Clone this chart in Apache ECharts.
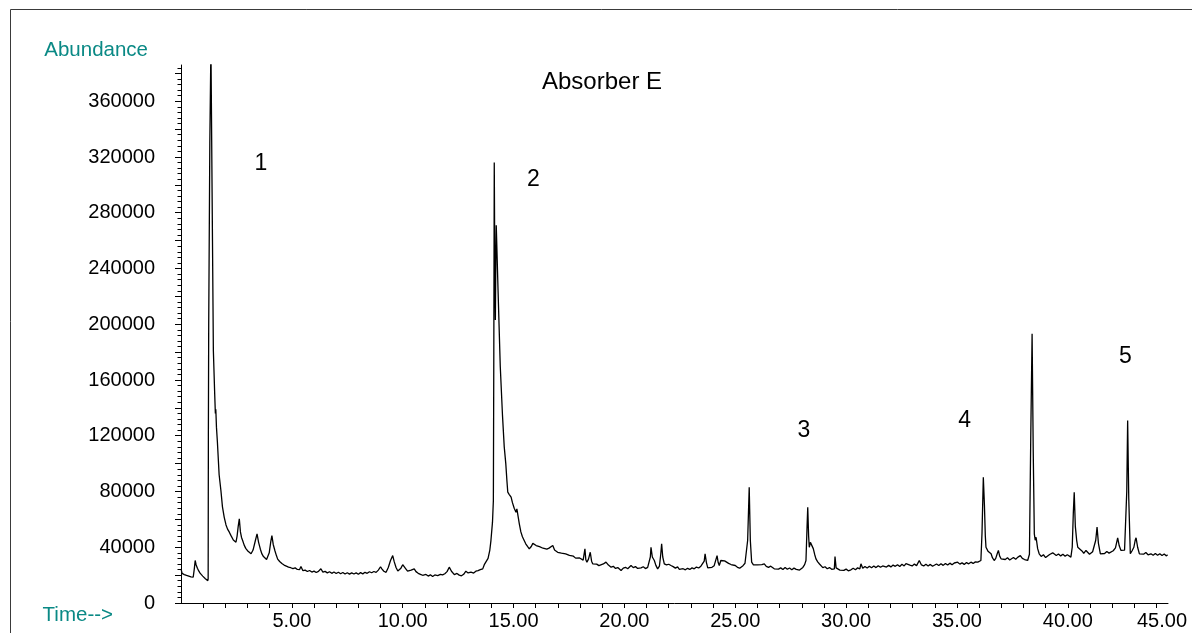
<!DOCTYPE html>
<html>
<head>
<meta charset="utf-8">
<script src="https://cdn.jsdelivr.net/npm/echarts@6/dist/echarts.min.js"></script>
<style>
html,body{margin:0;padding:0;background:#fff;}
#chart{width:1192px;height:633px;}
</style>
</head>
<body>
<div id="chart"></div>
<script>
// ---------- DATA ----------
const chartTitle = 'Absorber E';
const yAxisName = 'Abundance';
const xAxisName = 'Time-->';

const yTickValues = [0,20000,40000,60000,80000,100000,120000,140000,160000,180000,200000,220000,240000,260000,280000,300000,320000,340000,360000,380000];
const yLabelValues = [0,40000,80000,120000,160000,200000,240000,280000,320000,360000];
const xTickValues = [1,2,3,4,5,6,7,8,9,10,11,12,13,14,15,16,17,18,19,20,21,22,23,24,25,26,27,28,29,30,31,32,33,34,35,36,37,38,39,40,41,42,43,44];
const xLabelValues = [5,10,15,20,25,30,35,40,45];

// peak annotations: [time (min), abundance, text]
const peakLabels = [
  [3.6, 315000, '1'],
  [15.9, 303700, '2'],
  [28.1, 123700, '3'],
  [35.35, 130900, '4'],
  [42.6, 176700, '5']
];

// chromatogram trace: [time (min), abundance (thousands)]
const trace = [
[0,24.5],[0.05,21.2],[0.1,22.0],[0.15,20.4],[0.2,21.1],[0.25,19.8],[0.3,20.6],[0.35,19.3],[0.4,20.0],[0.45,18.8],[0.5,19.6],[0.55,18.5],
[0.6,24.5],[0.64,30.5],[0.68,27.5],[0.74,25.0],[0.8,23.0],[0.86,21.4],[0.92,20.6],[0.98,19.3],[1.04,18.6],[1.1,17.4],[1.16,16.8],[1.21,16.0],
[1.225,17.5],[1.235,120],[1.25,200],[1.30,330],[1.35,400],[1.37,400],[1.42,260],[1.46,181],[1.52,150],[1.55,136],[1.57,139],[1.6,126],[1.64,116],
[1.72,92],[1.8,80.7],[1.87,69],[1.95,61.5],[2.03,56],[2.1,53],[2.18,50.8],[2.25,48.5],[2.3,47.6],[2.36,45.2],[2.42,44.1],[2.48,43.6],
[2.53,48],[2.58,55],[2.63,60.4],[2.68,51],[2.73,47],[2.78,44.8],[2.85,41.5],[2.92,39.2],[3.0,37.5],[3.08,36.1],[3.16,35.3],
[3.25,38],[3.35,44.5],[3.43,49.6],[3.5,43.5],[3.58,38.6],[3.65,35.2],[3.72,33.3],[3.79,32.2],[3.86,31.2],[3.91,30.8],
[3.98,36],[4.05,44],[4.10,48.4],[4.16,42],[4.24,37.3],[4.3,34.2],[4.36,31.5],[4.45,29.8],[4.55,28.3],[4.65,27.2],[4.75,26.5],[4.85,25.8],[4.95,25.3],
[5.05,24.6],[5.15,25.2],[5.25,24.1],[5.35,24.0],[5.41,26.2],[5.5,23.2],[5.6,23.6],[5.7,22.6],[5.8,23.3],[5.9,22.2],[6.0,22.9],[6.1,21.9],[6.2,22.7],
[6.31,24.6],[6.4,22.1],[6.5,22.7],[6.6,21.6],[6.7,22.4],[6.8,21.3],[6.9,22.2],[7.0,21.2],[7.1,22.1],[7.2,21.0],[7.3,21.9],[7.4,20.8],[7.5,21.7],
[7.6,20.7],[7.7,21.6],[7.8,20.8],[7.9,21.6],[8.0,20.6],[8.1,21.8],[8.2,20.9],[8.3,22.0],[8.4,21.3],[8.5,22.4],[8.6,21.7],[8.7,22.6],[8.8,22.0],[8.9,23.6],
[9.0,26.0],[9.06,24.5],[9.15,22.8],[9.25,22.0],[9.35,25.5],[9.45,30.5],[9.55,34.0],[9.62,29.5],[9.7,25.5],[9.78,23.0],[9.85,22.1],[9.92,25.0],
[10.0,27.5],[10.07,28.1],[10.14,24.5],[10.22,22.8],[10.3,22.0],[10.38,23.6],[10.45,24.7],[10.52,24.5],[10.6,22.5],[10.7,21.3],[10.8,20.6],[10.9,19.9],
[10.97,19.7],[11.05,20.5],[11.15,19.3],[11.25,20.2],[11.35,19.0],[11.45,20.1],[11.58,19.7],[11.7,20.6],[11.8,20.2],[11.9,21.0],[12.0,22.5],[12.1,25.7],
[12.2,22.8],[12.33,20.4],[12.45,21.2],[12.55,20.0],[12.65,19.5],[12.75,20.6],[12.85,22.8],[12.95,21.6],[13.08,22.1],[13.2,21.5],[13.3,22.8],[13.4,23.2],
[13.5,23.9],[13.61,24.5],[13.68,27.5],[13.76,28.1],[13.85,32],[13.93,38],[13.98,44.8],[14.05,58],[14.09,73.5],[14.11,180],[14.13,316],[14.155,240],
[14.18,203],[14.20,245],[14.22,271],[14.3,225],[14.4,170],[14.5,135],[14.58,112],[14.65,100],[14.7,87.9],[14.74,79.5],[14.8,78],[14.89,75.9],[14.95,72],
[15.03,68],[15.11,65.1],[15.15,67.5],[15.19,66.4],[15.26,56.8],[15.33,51],[15.4,47.5],[15.48,44.8],[15.55,42.5],[15.63,40.6],[15.71,38.9],[15.8,40.5],
[15.87,42.8],[15.94,42.5],[16.02,41.2],[16.1,41.9],[16.17,40.4],[16.24,40.0],[16.33,39.3],[16.42,40.1],[16.5,38.6],[16.6,39.4],[16.69,38.9],[16.77,41.2],
[16.85,38.0],[16.92,37.2],[16.99,36.4],[17.08,37.1],[17.16,35.8],[17.25,36.5],[17.35,35.3],[17.44,35.3],[17.52,34.2],[17.6,33.1],[17.7,33.6],[17.8,32.2],
[17.89,31.7],[17.98,32.3],[18.06,30.9],[18.14,30.8],[18.19,30.5],[18.22,38.9],[18.26,31.0],[18.31,29.3],[18.38,31.5],[18.46,36.4],[18.52,30.0],[18.57,28.1],
[18.65,27.6],[18.75,27.9],[18.85,26.8],[18.94,26.9],[19.05,28.0],[19.17,29.3],[19.28,27.2],[19.4,25.7],[19.5,26.3],[19.6,24.8],[19.7,25.4],[19.85,23.3],
[19.95,25.0],[20.05,25.6],[20.15,24.6],[20.3,26.9],[20.4,25.4],[20.5,26.1],[20.6,24.8],[20.75,25.2],[20.85,26.0],[20.95,24.7],[21.05,25.6],[21.12,24.5],
[21.17,33],[21.2,40],[21.26,33],[21.35,30.5],[21.42,27],[21.5,24.5],[21.58,26.5],[21.64,35],[21.68,42.5],[21.73,33],[21.8,28.1],[21.9,27.3],[22.0,27.8],
[22.1,26.9],[22.2,26.1],[22.3,25.0],[22.4,25.9],[22.48,24.2],[22.55,23.3],[22.65,24.6],[22.75,23.8],[22.85,24.9],[22.95,24.1],[23.05,25.2],[23.15,24.5],
[23.25,25.8],[23.35,25.1],[23.45,26.4],[23.53,26.9],[23.6,30],[23.64,35.3],[23.7,29],[23.76,25.2],[23.85,26.5],[23.95,25.6],[24.05,26.8],[24.13,26.2],
[24.18,34.0],[24.23,29],[24.28,26.9],[24.35,30.5],[24.43,31.0],[24.52,30.2],[24.6,29.1],[24.7,28.4],[24.81,27.6],[24.9,26.4],[25.0,26.9],[25.1,25.6],
[25.2,25.0],[25.26,24.5],[25.35,26.8],[25.44,28.5],[25.48,29.3],[25.56,45],[25.63,83.1],[25.68,45],[25.74,29.3],[25.82,27.4],[25.9,26.2],[26.0,27.3],
[26.08,26.2],[26.2,27.5],[26.31,28.1],[26.4,26.3],[26.5,25.6],[26.6,26.4],[26.76,24.5],[26.85,25.5],[26.95,24.3],[27.05,25.2],[27.15,24.0],[27.25,25.4],
[27.35,24.2],[27.45,25.1],[27.55,23.9],[27.65,25.0],[27.75,24.1],[27.82,24.5],[27.9,23.6],[27.97,23.3],[28.05,25.5],[28.13,27.5],[28.19,30.5],[28.24,55],
[28.27,68.7],[28.31,48],[28.34,40],[28.39,43.5],[28.45,44.8],[28.52,39],[28.58,35],[28.64,31.7],[28.72,29.5],[28.8,28.0],[28.87,26.9],[28.95,25.4],
[29.05,26.0],[29.15,24.6],[29.25,25.4],[29.35,24.2],[29.47,24.5],[29.5,33.4],[29.55,25.2],[29.63,24.9],[29.72,23.6],[29.8,24.7],[29.9,23.4],[30.0,24.3],
[30.1,23.1],[30.22,23.8],[30.32,24.9],[30.42,23.9],[30.52,25.2],[30.62,24.5],[30.67,28.1],[30.75,25.0],[30.85,26.2],[30.95,25.1],[31.05,26.4],[31.15,25.3],
[31.25,26.5],[31.35,25.4],[31.45,26.7],[31.55,25.6],[31.65,26.6],[31.72,26.9],[31.82,25.8],[31.92,27.0],[32.02,25.9],[32.12,27.2],[32.22,26.3],[32.32,27.5],
[32.42,26.2],[32.52,27.8],[32.62,26.6],[32.7,28.3],[32.78,29.3],[32.88,27.2],[32.98,26.6],[33.08,27.9],[33.18,26.8],[33.3,30.5],[33.4,27.3],[33.5,26.6],
[33.6,27.8],[33.7,26.5],[33.8,27.7],[33.9,26.4],[33.98,26.9],[34.08,28.0],[34.18,26.9],[34.28,28.2],[34.38,27.0],[34.48,28.4],[34.58,27.2],[34.68,28.6],
[34.78,27.4],[34.88,28.7],[34.95,30.0],[35.03,29.3],[35.13,27.9],[35.23,28.8],[35.33,27.7],[35.43,29.0],[35.53,28.1],[35.63,29.3],[35.73,28.4],[35.83,29.5],
[35.94,29.3],[36.02,28.8],[36.08,30.5],[36.13,50],[36.19,90.2],[36.24,70],[36.28,48],[36.31,40],[36.4,37.2],[36.47,36.1],[36.54,35.3],[36.6,32.5],
[36.68,30.5],[36.75,32.0],[36.82,35.5],[36.87,37.7],[36.93,33.5],[36.99,31.7],[37.08,32.8],[37.18,31.2],[37.28,32.4],[37.38,30.9],[37.44,31.7],[37.55,32.6],
[37.65,31.4],[37.75,32.9],[37.86,34.0],[37.95,32.0],[38.05,31.2],[38.12,30.8],[38.19,30.5],[38.27,35],[38.33,120],[38.39,193.1],[38.44,110],[38.49,49.6],
[38.53,45],[38.57,47.2],[38.64,39],[38.71,35.3],[38.8,33.4],[38.9,34.6],[39.0,32.6],[39.09,32.9],[39.18,34.8],[39.25,33.5],[39.32,36.0],[39.39,35.3],
[39.48,34.1],[39.58,35.2],[39.68,33.8],[39.78,35.0],[39.88,33.6],[39.98,34.6],[40.06,33.2],[40.14,32.9],[40.2,40],[40.25,65],[40.29,79.5],[40.34,55],
[40.4,45],[40.45,40.0],[40.55,38.6],[40.65,37.2],[40.72,35.6],[40.82,37.7],[40.9,36.3],[40.98,35.0],[41.05,35.3],[41.12,36.8],[41.2,36.4],[41.26,45],
[41.32,54.4],[41.38,43],[41.47,35.3],[41.56,36.6],[41.66,35.5],[41.76,36.9],[41.86,35.8],[41.95,36.4],[42.05,37.5],[42.15,39.5],[42.25,46.8],[42.32,41],
[42.4,37.7],[42.48,38.9],[42.56,37.9],[42.62,38.9],[42.66,80],[42.70,130.9],[42.75,75],[42.82,35.3],[42.9,37.5],[42.98,40],[43.04,45],[43.08,46.8],
[43.15,40],[43.23,35.3],[43.32,36.4],[43.42,35.0],[43.52,36.2],[43.62,34.6],[43.75,35.3],[43.85,34.2],[43.95,35.5],[44.05,34.3],[44.15,35.4],[44.25,34.1],
[44.35,35.2],[44.45,33.8],[44.5,34.6]
];

// ---------- CHART ----------
const FONT = "'Liberation Sans', Arial, sans-serif";
const TEAL = '#0a8985';
const X_MAX = 44.52;
const chart = echarts.init(document.getElementById('chart'), null, {renderer: 'canvas'});

const seriesData = trace.map(p => [p[0], p[1] * 1000]);
const innerLabels = xLabelValues.filter(v => v <= X_MAX);
const outerLabels = xLabelValues.filter(v => v > X_MAX);
const labelStyle = {fontSize: 20, color: '#000', fontFamily: FONT, margin: 8};

chart.setOption({
  animation: false,
  backgroundColor: '#fff',
  textStyle: {fontFamily: FONT},
  title: {
    text: chartTitle,
    left: 542, top: 70, padding: 0,
    textStyle: {fontFamily: FONT, fontSize: 24, fontWeight: 'normal', color: '#000'}
  },
  graphic: [{
    type: 'rect', silent: true,
    shape: {x: 10.5, y: 9.5, width: 1300, height: 800},
    style: {fill: 'none', stroke: '#3a3a3a', lineWidth: 1}
  }],
  grid: [
    {left: 181, right: 24, top: 65, bottom: 30, outerBoundsMode: 'none', containLabel: false},
    // the last time label sits pulled in against the right edge, as in the source plot
    {left: 181, right: 30, top: 65, bottom: 30, outerBoundsMode: 'none', containLabel: false}
  ],
  xAxis: [{
    type: 'value', gridIndex: 0, min: 0, max: X_MAX, interval: 1,
    name: xAxisName, nameLocation: 'start', nameGap: 68,
    nameTextStyle: {color: TEAL, fontSize: 20.5, fontFamily: FONT, align: 'right', verticalAlign: 'top', padding: [2, 0, 0, 0]},
    axisLine: {show: true, onZero: false, lineStyle: {color: '#000', width: 1}},
    axisTick: {show: true, customValues: xTickValues, length: 5, lineStyle: {color: '#000', width: 1}},
    axisLabel: Object.assign({show: true, customValues: innerLabels, formatter: v => v.toFixed(2)}, labelStyle),
    splitLine: {show: false}
  }, {
    type: 'value', gridIndex: 1, min: 0, max: 45, interval: 5,
    axisLine: {show: false}, axisTick: {show: false}, splitLine: {show: false},
    axisLabel: Object.assign({show: true, customValues: outerLabels, formatter: v => v.toFixed(2),
      showMaxLabel: true, hideOverlap: false}, labelStyle)
  }],
  yAxis: [{
    type: 'value', gridIndex: 0, min: 0, max: 386000, interval: 20000,
    name: yAxisName, nameLocation: 'end', nameGap: 15,
    nameTextStyle: {color: TEAL, fontSize: 20.5, fontFamily: FONT, align: 'right', verticalAlign: 'middle', padding: [0, 33, 0, 0]},
    axisLine: {show: true, onZero: false, lineStyle: {color: '#000', width: 1}},
    axisTick: {show: true, customValues: yTickValues, length: 6, lineStyle: {color: '#000', width: 1}},
    minorTick: {show: true, splitNumber: 5, length: 3.5, lineStyle: {color: '#000', width: 1}},
    axisLabel: {show: true, customValues: yLabelValues, formatter: v => String(v),
      fontSize: 20, color: '#000', fontFamily: FONT, margin: 26, padding: [7, 0, 0, 0]},
    splitLine: {show: false}
  }, {
    type: 'value', gridIndex: 1, min: 0, max: 1, show: false
  }],
  series: [{
    type: 'line', xAxisIndex: 0, yAxisIndex: 0,
    data: seriesData,
    showSymbol: false, symbol: 'none', clip: true,
    lineStyle: {color: '#000', width: 1.3},
    silent: true
  }, {
    type: 'scatter', xAxisIndex: 0, yAxisIndex: 0,
    data: peakLabels,
    symbolSize: 0,
    itemStyle: {color: '#000', opacity: 1},
    label: {show: true, position: 'inside', formatter: p => p.data[2],
      fontSize: 23, color: '#000', opacity: 1, fontFamily: FONT},
    silent: true
  }]
});
</script>
</body>
</html>
